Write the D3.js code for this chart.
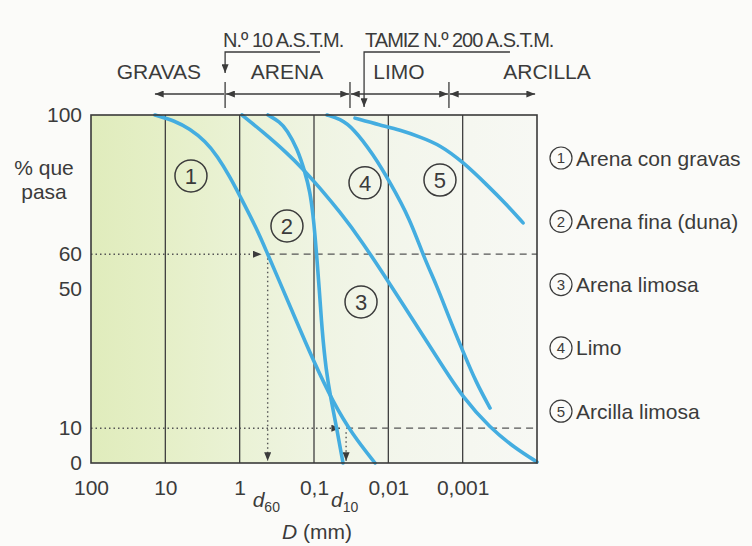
<!DOCTYPE html>
<html lang="es">
<head>
<meta charset="UTF-8">
<title>Curvas granulométricas</title>
<script src="https://cdn.jsdelivr.net/npm/d3@7"></script>
<style>
  body { margin: 0; background: #fbfbf9; }
  text { font-family: "Liberation Sans", Arial, sans-serif; fill: #3b3b3b; }
</style>
</head>
<body>
<svg id="main" width="752" height="546"></svg>
<script>
// tamaño de partícula D (mm) y % que pasa
const serieNombres = ['Arena con gravas', 'Arena fina (duna)', 'Arena limosa', 'Limo', 'Arcilla limosa'];

const curva1D = [13.8, 7.4, 4.7, 2.9, 2.0, 1.35, 0.99, 0.585, 0.42, 0.305, 0.18, 0.103, 0.0555, 0.030, 0.0151];
const curva1P = [100, 98.3, 96, 92.5, 88.2, 82.2, 76.7, 67.2, 60, 53.2, 41.7, 29.6, 17.5, 8, 0];

const curva2D = [0.416, 0.287, 0.231, 0.169, 0.132, 0.113, 0.103, 0.097, 0.091, 0.0857, 0.078, 0.0689, 0.059, 0.049, 0.0407];
const curva2P = [100, 98, 95.7, 90.5, 83.6, 77.9, 71.3, 65.5, 58.3, 51.1, 38.2, 26.7, 18.1, 9.5, 0];

const curva3D = [0.93, 0.485, 0.231, 0.141, 0.083, 0.0447, 0.0233, 0.0095, 0.00466, 0.00202, 0.00099, 0.000428, 0.000198, 0.0001];
const curva3P = [100, 95.1, 89.1, 84.5, 79, 72.1, 64.1, 51.4, 41.1, 29, 18.7, 10.1, 4.3, 0.3];

const curva4D = [0.0668, 0.0447, 0.0299, 0.0161, 0.0095, 0.00511, 0.0033, 0.00227, 0.00152, 0.00101, 0.000655, 0.000428];
const curva4P = [100, 98.9, 96.3, 88.8, 80.7, 70.1, 58.9, 51.4, 41.7, 32.5, 23, 15.8];

const curva5D = [0.0281, 0.0129, 0.00697, 0.00375, 0.00202, 0.00099, 0.00047, 0.000269, 0.000154];
const curva5P = [99.1, 97.1, 95.7, 93.7, 91.4, 86.5, 79.9, 74.7, 69];

// posición de los números de cada curva (D, %)
const etiquetaD = [4.52, 0.231, 0.0233, 0.0206, 0.00202];
const etiquetaP = [82.5, 68.1, 46.3, 80.5, 81.3];

const xTicks = [100, 10, 1, 0.1, 0.01, 0.001];
const xTickLabels = ['100', '10', '1', '0,1', '0,01', '0,001'];
const yTicks = [0, 10, 50, 60, 100];
const rejilla = [10, 1, 0.1, 0.01, 0.001];

// zonas y tamices
const zonas = ['GRAVAS', 'ARENA', 'LIMO', 'ARCILLA'];
const zonaTextoD = [12.2, 0.231, 0.0072, 0.0000733];
const zonaLimites = [13.8, 1.57, 0.0328, 0.00153, 0.000106];
const tamices = ['N.º 10 A.S.T.M.', 'TAMIZ N.º 200 A.S.T.M.'];
const tamizD = [1.57, 0.0212];
const tamizFinD = [0.083, 0.000231];

const d60 = 0.42, d10 = 0.037;

let svg = d3.select('svg#main');
let plot = {left: 91, right: 537, top: 115, bottom: 463};

let x = d3.scaleLog().domain([100, 0.0001]).range([plot.left, plot.right]);
let y = d3.scaleLinear().domain([0, 100]).range([plot.bottom, plot.top]);

let defs = svg.append('defs');
let grad = defs.append('linearGradient').attr('id', 'fondo');
[['0', '#e0ecbc'], ['0.16', '#e5efc7'], ['0.33', '#eaf2d5'], ['0.5', '#eff4e2'], ['0.7', '#f3f6ec'], ['1', '#f7f8f4']]
  .forEach(function (s) { grad.append('stop').attr('offset', s[0]).attr('stop-color', s[1]); });

defs.append('marker')
  .attr('id', 'flecha')
  .attr('viewBox', '0 0 10 8')
  .attr('refX', 10).attr('refY', 4)
  .attr('markerWidth', 9).attr('markerHeight', 7)
  .attr('markerUnits', 'userSpaceOnUse')
  .attr('orient', 'auto-start-reverse')
  .append('path').attr('d', 'M0,0L10,4L0,8z').attr('fill', '#3b3b3b');

// fondo del gráfico
svg.append('rect')
  .attr('x', plot.left).attr('y', plot.top)
  .attr('width', plot.right - plot.left).attr('height', plot.bottom - plot.top)
  .attr('fill', 'url(#fondo)');

// líneas verticales
svg.selectAll('line.grid')
  .data(rejilla)
  .enter().append('line')
  .attr('class', 'grid')
  .attr('x1', d => x(d)).attr('x2', d => x(d))
  .attr('y1', plot.top).attr('y2', plot.bottom)
  .attr('stroke', '#3f3f3f').attr('stroke-width', 1.3);

// líneas del 60 % y 10 %
function marcaD(dVal, pVal) {
  let xp = x(dVal), yp = y(pVal);
  svg.append('line')
    .attr('x1', plot.left).attr('x2', xp - 6).attr('y1', yp).attr('y2', yp)
    .attr('stroke', '#555').attr('stroke-width', 1.4).attr('stroke-dasharray', '1.5,3')
    .attr('marker-end', 'url(#flecha)');
  svg.append('line')
    .attr('x1', xp).attr('x2', plot.right).attr('y1', yp).attr('y2', yp)
    .attr('stroke', '#555').attr('stroke-width', 1.3).attr('stroke-dasharray', '7,5');
  svg.append('line')
    .attr('x1', xp).attr('x2', xp).attr('y1', yp + 4).attr('y2', plot.bottom - 2)
    .attr('stroke', '#555').attr('stroke-width', 1.4).attr('stroke-dasharray', '1.5,3')
    .attr('marker-end', 'url(#flecha)');
}
marcaD(d60, 60);
marcaD(d10, 10);

// curvas
let curvas = [
  d3.zip(curva1D, curva1P), d3.zip(curva2D, curva2P), d3.zip(curva3D, curva3P),
  d3.zip(curva4D, curva4P), d3.zip(curva5D, curva5P)
];
let linea = d3.line().x(d => x(d[0])).y(d => y(d[1])).curve(d3.curveBasis);
svg.selectAll('path.curva')
  .data(curvas)
  .enter().append('path')
  .attr('class', 'curva')
  .attr('d', linea)
  .attr('fill', 'none')
  .attr('stroke', '#44ade0')
  .attr('stroke-width', 3.6)
  .attr('stroke-linecap', 'round');

// marco
svg.append('rect')
  .attr('x', plot.left).attr('y', plot.top)
  .attr('width', plot.right - plot.left).attr('height', plot.bottom - plot.top)
  .attr('fill', 'none').attr('stroke', '#3a3a3a').attr('stroke-width', 1.6);

// números dentro del gráfico
let etiquetas = svg.selectAll('g.num')
  .data(d3.range(5))
  .enter().append('g')
  .attr('class', 'num')
  .attr('transform', i => 'translate(' + x(etiquetaD[i]) + ',' + y(etiquetaP[i]) + ')');
etiquetas.append('circle').attr('r', 16).attr('fill', 'none').attr('stroke', '#3b3b3b').attr('stroke-width', 1.5);
etiquetas.append('text')
  .attr('text-anchor', 'middle').attr('dy', '0.36em')
  .style('font-size', '22px')
  .text(i => i + 1);

// ejes
let ejeX = svg.append('g')
  .attr('transform', 'translate(0,' + plot.bottom + ')')
  .call(d3.axisBottom(x).tickValues(xTicks).tickSize(0).tickPadding(17)
    .tickFormat((d, i) => xTickLabels[i]));
let ejeY = svg.append('g')
  .attr('transform', 'translate(' + plot.left + ',0)')
  .call(d3.axisLeft(y).tickValues(yTicks).tickSize(0).tickPadding(9));
[ejeX, ejeY].forEach(function (g) {
  g.select('.domain').remove();
  g.selectAll('text')
    .style('font-size', '21px')
    .style('font-family', '"Liberation Sans", Arial, sans-serif')
    .attr('fill', '#3b3b3b');
});

svg.append('text').attr('x', 44).attr('y', 175).attr('text-anchor', 'middle')
  .style('font-size', '21px').text('% que');
svg.append('text').attr('x', 44).attr('y', 199).attr('text-anchor', 'middle')
  .style('font-size', '21px').text('pasa');

// d60, d10 y título del eje
function etiquetaDiam(dVal, sub) {
  let t = svg.append('text').attr('x', x(dVal) - 15).attr('y', 507).style('font-size', '21px');
  t.append('tspan').style('font-style', 'italic').text('d');
  t.append('tspan').attr('dy', 5).style('font-size', '14px').text(sub);
}
etiquetaDiam(d60, '60');
etiquetaDiam(d10, '10');

let tituloX = svg.append('text').attr('x', 317).attr('y', 539).attr('text-anchor', 'middle').style('font-size', '21px');
tituloX.append('tspan').style('font-style', 'italic').text('D');
tituloX.append('tspan').text(' (mm)');

// zonas arriba
svg.selectAll('text.zona')
  .data(zonas)
  .enter().append('text')
  .attr('class', 'zona')
  .attr('x', (d, i) => x(zonaTextoD[i]))
  .attr('y', 79)
  .attr('text-anchor', 'middle')
  .style('font-size', '21px')
  .text(d => d);

let flechaY = 94;
d3.pairs(zonaLimites).forEach(function (p, i) {
  svg.append('line')
    .attr('x1', x(p[0]) + (i === 0 ? 0 : 1)).attr('x2', x(p[1]) - (i === 3 ? 0 : 1))
    .attr('y1', flechaY).attr('y2', flechaY)
    .attr('stroke', '#3b3b3b').attr('stroke-width', 1.3)
    .attr('marker-start', 'url(#flecha)')
    .attr('marker-end', i === 0 ? null : 'url(#flecha)');
});
zonaLimites.slice(1, 4).forEach(function (d) {
  svg.append('line')
    .attr('x1', x(d)).attr('x2', x(d)).attr('y1', 82).attr('y2', 108)
    .attr('stroke', '#3b3b3b').attr('stroke-width', 1.3);
});

// tamices
let tamizFlechaFin = [73, 107];
tamices.forEach(function (nombre, i) {
  let xs = x(tamizD[i]);
  svg.append('text')
    .attr('x', xs + (i === 0 ? -2 : 1)).attr('y', 47)
    .style('font-size', '20px').style('letter-spacing', '-1px')
    .text(nombre);
  svg.append('polyline')
    .attr('points', [[x(tamizFinD[i]), 52], [xs, 52], [xs, tamizFlechaFin[i]]].join(' '))
    .attr('fill', 'none').attr('stroke', '#3b3b3b').attr('stroke-width', 1.3)
    .attr('marker-end', 'url(#flecha)');
});

// leyenda
let leyenda = svg.selectAll('g.ley')
  .data(serieNombres)
  .enter().append('g')
  .attr('class', 'ley')
  .attr('transform', (d, i) => 'translate(561,' + (158 + i * 63.3) + ')');
leyenda.append('circle').attr('r', 11).attr('fill', 'none').attr('stroke', '#3b3b3b').attr('stroke-width', 1.2);
leyenda.append('text').attr('text-anchor', 'middle').attr('dy', '0.36em')
  .style('font-size', '15px').text((d, i) => i + 1);
leyenda.append('text').attr('x', 15).attr('dy', '0.36em')
  .style('font-size', '21px').text(d => d);
</script>
</body>
</html>
